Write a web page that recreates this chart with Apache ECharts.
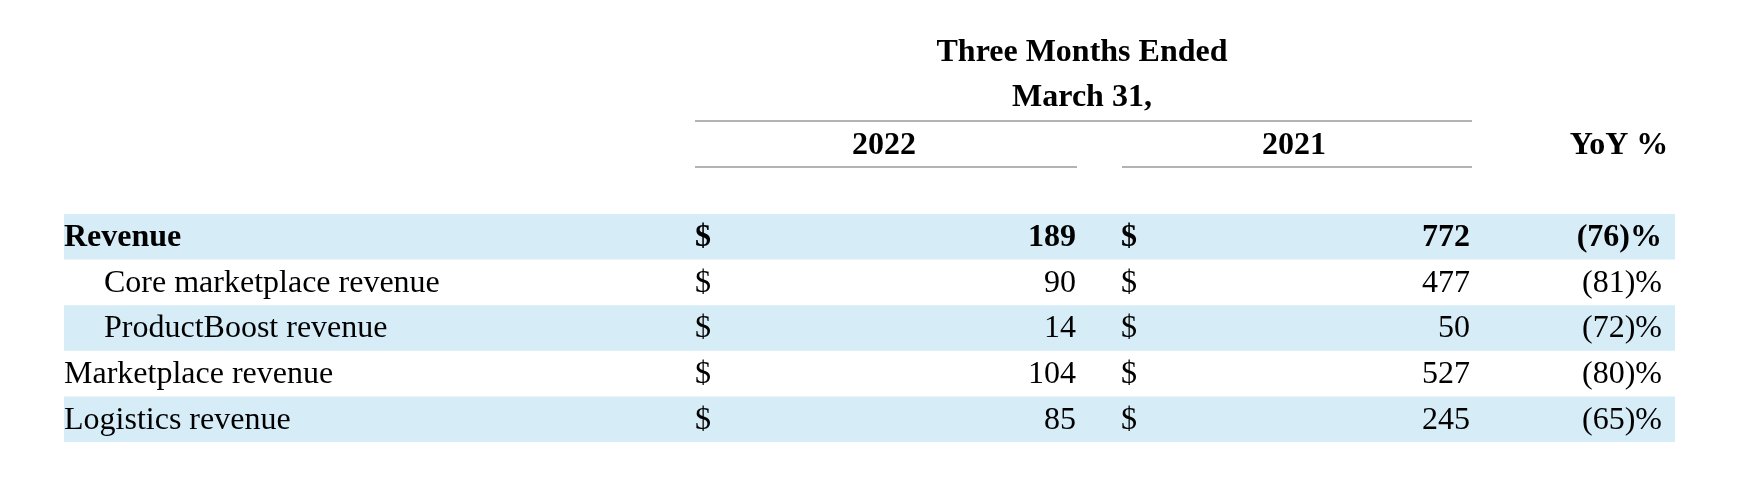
<!DOCTYPE html>
<html>
<head>
<meta charset="utf-8">
<script src="https://cdn.jsdelivr.net/npm/echarts@6/dist/echarts.min.js"></script>
<style>
html, body { margin: 0; padding: 0; background: #fff; }
#chart { width: 1748px; height: 480px; }
</style>
</head>
<body>
<div id="chart"></div>
<script>
const rowLabels = ['Revenue', 'Core marketplace revenue', 'ProductBoost revenue', 'Marketplace revenue', 'Logistics revenue'];
const values2022 = [189, 90, 14, 104, 85];
const values2021 = [772, 477, 50, 527, 245];
const yoyPct = [-76, -81, -72, -80, -65];
const indented = [false, true, true, false, false];
const boldRows = [true, false, false, false, false];
const yearLabels = ['2022', '2021'];

const FONT = '"Liberation Serif", "DejaVu Serif", serif';
const SIZE = 32;
const BAND = '#d6edf8';
// column anchors, relative to grid left (grid spans x 64..1675)
const col = { label: 0, indent: 40, dollar1: 639, val1: 1012, dollar2: 1065, val2: 1406, yoy: 1598 };

const chart = echarts.init(document.getElementById('chart'));

function renderRow(params, api) {
    const i = api.value(0);
    const left = api.coord([0, i]);
    const cy = left[1];
    const h = api.size([0, 1])[1];
    const x0 = left[0];
    const weight = boldRows[i] ? 'bold' : 'normal';
    const txt = (x, text, align) => ({
        type: 'text',
        style: { x: x0 + x, y: cy + 1, text: text, textAlign: align, textVerticalAlign: 'middle',
                 font: weight + ' ' + SIZE + 'px ' + FONT, fill: '#000' }
    });
    const children = [];
    if (i % 2 === 0) {
        children.push({ type: 'rect', shape: { x: x0, y: cy - h / 2, width: 1611, height: h }, style: { fill: BAND } });
    }
    children.push(txt(indented[i] ? col.indent : col.label, rowLabels[i], 'left'));
    children.push(txt(col.dollar1, '$', 'center'));
    children.push(txt(col.val1, String(values2022[i]), 'right'));
    children.push(txt(col.dollar2, '$', 'center'));
    children.push(txt(col.val2, String(values2021[i]), 'right'));
    children.push(txt(col.yoy, '(' + Math.abs(yoyPct[i]) + ')%', 'right'));
    return { type: 'group', children: children };
}

const headStyle = { font: 'bold ' + SIZE + 'px ' + FONT, fill: '#000', textAlign: 'center', textVerticalAlign: 'middle' };
const lineStyle = { stroke: '#9a9a9a', lineWidth: 1.5 };

chart.setOption({
    animation: false,
    grid: { left: 64, right: 73, top: 214, bottom: 38 },
    xAxis: { type: 'value', min: 0, max: 1611, show: false },
    yAxis: { type: 'category', data: rowLabels, inverse: true, show: false },
    graphic: [
        { type: 'text', style: Object.assign({ x: 1082, y: 53, text: 'Three Months Ended' }, headStyle) },
        { type: 'text', style: Object.assign({ x: 1082, y: 98, text: 'March 31,' }, headStyle) },
        { type: 'line', shape: { x1: 695, y1: 121, x2: 1472, y2: 121 }, style: lineStyle },
        { type: 'text', style: Object.assign({ x: 884, y: 146, text: yearLabels[0] }, headStyle) },
        { type: 'text', style: Object.assign({ x: 1294, y: 146, text: yearLabels[1] }, headStyle) },
        { type: 'text', style: Object.assign({ x: 1619, y: 146, text: 'YoY %' }, headStyle) },
        { type: 'line', shape: { x1: 695, y1: 167, x2: 1077, y2: 167 }, style: lineStyle },
        { type: 'line', shape: { x1: 1122, y1: 167, x2: 1472, y2: 167 }, style: lineStyle }
    ],
    series: [{
        type: 'custom',
        renderItem: renderRow,
        data: rowLabels.map((_, i) => [i]),
        encode: { y: 0 }
    }]
});
</script>
</body>
</html>
